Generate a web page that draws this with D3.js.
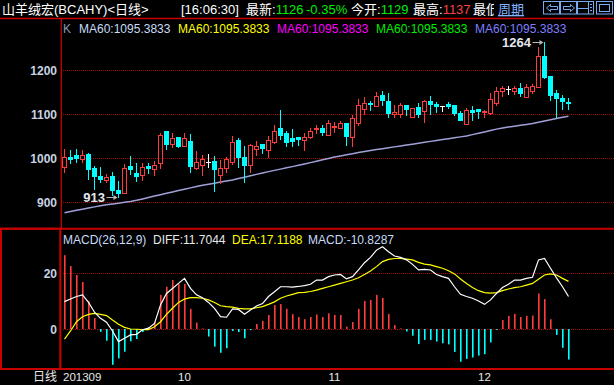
<!DOCTYPE html>
<html>
<head>
<meta charset="utf-8">
<script src="https://cdn.jsdelivr.net/npm/d3@7"></script>
<style>
  html, body { margin: 0; padding: 0; background: #000; }
  svg { display: block; font-family: "Liberation Sans", "Noto Sans CJK SC", sans-serif; }
</style>
</head>
<body>
<svg id="chart" width="614" height="385"></svg>
<script>
// daily candles (Sep - Dec 2013)
const open = [980,1002,1008,999,1010,978,960,951,960,928,922,983,967,962,982,976,990,1062,1033,1048,1029,1039,977,985,992,994,963,977,992,1041,1003,984,1022,1032,1020,1038,1070,1057,1046,1048,1041,1049,1066,1069,1054,1072,1070,1080,1048,1081,1113,1126,1120,1143,1130,1100,1100,1121,1094,1117,1107,1130,1123,1120,1124,1121,1104,1078,1110,1112,1106,1104,1126,1154,1157,1154,1159,1139,1154,1163,1232,1187,1148,1136,1129];
const high = [1021,1019,1021,1019,1012,982,980,964,969,948,987,1005,989,990,989,993,1058,1062,1057,1048,1057,1055,1017,1008,1010,1005,997,1003,1051,1046,1028,1033,1039,1032,1051,1076,1110,1062,1067,1048,1058,1070,1076,1075,1086,1082,1085,1081,1098,1134,1139,1130,1150,1153,1148,1122,1126,1121,1114,1126,1133,1142,1128,1120,1129,1121,1107,1115,1119,1112,1109,1148,1163,1165,1165,1164,1171,1168,1169,1252,1264,1187,1155,1144,1137];
const low = [970,990,992,991,953,930,946,946,916,913,921,964,948,951,967,963,977,1022,1025,1026,1028,968,976,961,981,926,945,970,988,981,947,968,1008,1011,1004,1034,1044,1029,1029,1031,1020,1046,1058,1052,1053,1060,1070,1031,1029,1076,1101,1109,1119,1122,1095,1094,1093,1098,1094,1093,1083,1101,1105,1108,1114,1099,1086,1078,1088,1092,1095,1101,1122,1142,1147,1146,1142,1139,1148,1162,1182,1133,1094,1112,1112];
const close = [1002,998,1001,1008,976,960,954,958,928,921,977,976,960,980,979,985,1054,1032,1046,1029,1046,983,992,998,992,976,977,998,1037,1004,985,1031,1028,1024,1042,1062,1054,1038,1040,1044,1048,1062,1069,1060,1080,1074,1080,1051,1092,1121,1125,1123,1142,1133,1102,1105,1122,1113,1114,1100,1130,1124,1118,1120,1120,1102,1086,1109,1106,1107,1108,1135,1153,1159,1157,1160,1148,1163,1164,1232,1185,1144,1138,1130,1126];
const ma60 = [876.4,879,881.7,884.3,887,889.6,892.3,894.2,896.1,898,899.9,901.8,904.5,907.7,910.9,914.1,917.3,920.5,923.6,926.6,929.7,932.8,935.9,938.7,941.1,943.5,945.9,948.3,950.7,953.9,957.1,960.3,963.5,966.7,969.7,972.6,975.4,978.3,981.1,984,987,990.2,993.4,996.6,999.8,1002.8,1005.4,1007.9,1010.5,1013,1015.6,1017.8,1019.9,1021.9,1023.9,1026,1028,1030.1,1032.2,1034.3,1036.4,1038.5,1040.5,1042.6,1044.6,1046.6,1048.7,1050.7,1053.8,1056.9,1060,1063.2,1066.3,1069,1071,1073,1075,1077.1,1079.1,1081.8,1084.6,1087.5,1090.3,1093.1,1095.3833];

// MACD(26,12,9)
const diff = [9.9,10.8,11.7,12.3,9.6,6.1,3.9,2.5,-0.6,-4.4,-3.2,-2.0,-1.8,-0.2,0.4,2.1,8.7,12.8,14.6,16.4,18.2,14.6,12.3,11.3,9.6,7.5,4.5,4.3,7.3,7.1,5.4,6.9,8.3,9.2,11.7,13.4,15.2,15.2,15.1,15.3,15.6,16.1,17.6,17.6,18.8,19.4,19.6,18.0,18.8,21.2,23.8,25.7,28.3,29.5,27.7,26.2,25.7,24.8,23.2,21.2,21.4,21.2,19.6,18.8,18.2,15.2,12.5,11.7,11.1,10.1,8.9,10.5,12.8,14.9,16.1,17.6,17.6,18.2,18.6,24.8,25.3,21.8,18.4,15.2,11.7044];
const dea = [-3.5,-0.6,2.7,4.5,5.3,5.7,5.3,4.9,3.3,1.8,0.7,0.1,0.0,-0.1,-0.1,0.9,2.7,5.3,7.5,9.6,10.8,11.3,11.3,11.1,10.5,9.6,8.4,8.1,7.9,7.5,7.3,7.3,7.7,8.1,8.9,9.8,11.1,11.9,12.5,13.1,13.2,13.5,14.0,14.6,15.2,15.8,16.4,17.0,17.6,18.4,19.6,20.8,22.4,24.2,25.0,25.3,25.3,25.1,24.8,23.9,23.3,23.0,22.4,21.8,20.9,19.8,18.0,16.4,14.9,13.8,13.1,12.9,13.1,13.8,14.4,14.9,15.2,15.8,16.4,17.9,19.4,19.8,19.4,18.2,17.1188];
const macd = [26.5,22.6,19.4,16.9,10.1,4.0,-0.9,-4.1,-12.7,-10.4,-8.0,-4.3,-3.5,-1.0,0.7,2.5,12.3,15.2,17.6,16.1,16.2,7.3,2.4,0.3,-2.6,-6.2,-8.4,-6.8,-0.6,-1.0,-3.2,-0.3,1.9,3.0,5.1,8.7,9.0,7.3,5.4,4.4,3.6,4.4,5.3,4.4,5.7,5.1,5.1,0.9,2.6,7.3,10.1,10.5,12.3,11.2,5.5,1.5,0.3,-0.8,-2.3,-5.3,-3.8,-3.8,-4.4,-5.0,-5.4,-8.1,-11.6,-10.6,-10.1,-9.4,-8.9,-4.7,-0.2,3.3,4.8,5.5,4.4,4.8,4.9,12.8,10.8,3.6,-2.0,-6.6,-10.8287];

const priceTicks = [900, 1000, 1100, 1200];
const macdTicks = [0, 20];
const monthLabels = ["201309", "10", "11", "12"];
const monthIndex = [0, 20, 45, 70];

const RED = "#ff3c3c", CYAN = "#00ffff", FRAME = "#c80000", GRID = "#a00000";
const n = close.length;

const svg = d3.select("#chart");
svg.append("rect").attr("width", 614).attr("height", 385).attr("fill", "#000");

// scales
const x = d3.scaleLinear().domain([0, n - 1]).range([64.5, 64.5 + 6 * (n - 1)]);
const y = d3.scaleLinear().domain([841.6, 1318.9]).range([228, 18]);
const ym = d3.scaleLinear().domain([-14.2, 36.2]).range([369, 228]);

// ---- top bar ----
const bar = svg.append("g").attr("font-size", 13);
bar.append("text").attr("x", 2).attr("y", 14).attr("fill", "#fff").text("山羊绒宏(BCAHY)<日线>");
bar.append("text").attr("x", 181).attr("y", 14).attr("fill", "#fff").text("[16:06:30]");
const t1 = bar.append("text").attr("x", 246).attr("y", 14).attr("fill", "#fff");
t1.append("tspan").text("最新:");
t1.append("tspan").attr("fill", "#00ee00").text(close[n - 1]);
bar.append("text").attr("x", 306).attr("y", 14).attr("fill", "#00ee00")
  .text(((close[n - 1] / close[n - 2] - 1) * 100).toFixed(2) + "%");
const t2 = bar.append("text").attr("x", 351).attr("y", 14).attr("fill", "#fff");
t2.append("tspan").text("今开:");
t2.append("tspan").attr("fill", "#00ee00").text(open[n - 1]);
const t3 = bar.append("text").attr("x", 413).attr("y", 14).attr("fill", "#fff");
t3.append("tspan").text("最高:");
t3.append("tspan").attr("fill", "#ff4040").text(high[n - 1]);
bar.append("text").attr("x", 473).attr("y", 14).attr("fill", "#fff").text("最低");
bar.append("rect").attr("x", 494).attr("y", 0).attr("width", 120).attr("height", 17).attr("fill", "#000");
bar.append("text").attr("x", 498).attr("y", 14).attr("fill", "#80b4ff")
  .attr("text-decoration", "underline").text("周期");

// toolbar icons
const ic = svg.append("g").attr("fill", "none").attr("stroke", "#78aaf0").attr("stroke-width", 1);
[543.5, 560.5, 577.5, 596.5].forEach(bx => {
  ic.append("rect").attr("x", bx).attr("y", 1.5).attr("width", 16).attr("height", 12.5);
});
ic.append("path").attr("d", "M546.5,8 L550.5,4.5 L550.5,6.5 L557.5,6.5 L557.5,9.5 L550.5,9.5 L550.5,11.5 Z");
ic.append("path").attr("d", "M574.5,8 L570.5,4.5 L570.5,6.5 L563.5,6.5 L563.5,9.5 L570.5,9.5 L570.5,11.5 Z");
ic.append("path").attr("d", "M578,8.5 H588 M588.5,2 V14 M590,4.5 H592 M590,7.5 H592 M590,10.5 H592");
ic.append("rect").attr("x", 599.5).attr("y", 4.5).attr("width", 10).attr("height", 7);

// ---- frames ----
const fr = svg.append("g").attr("stroke", FRAME);
fr.append("line").attr("x1", 0).attr("x2", 614).attr("y1", 18.5).attr("y2", 18.5).attr("stroke-width", 1.6);
fr.append("line").attr("x1", 61.3).attr("x2", 61.3).attr("y1", 18).attr("y2", 228).attr("stroke-width", 1.3);
fr.append("line").attr("x1", 0).attr("x2", 614).attr("y1", 228.7).attr("y2", 228.7).attr("stroke-width", 2);
fr.append("line").attr("x1", 0).attr("x2", 614).attr("y1", 369).attr("y2", 369).attr("stroke-width", 2);
fr.append("rect").attr("x", 1).attr("y", 228.7).attr("width", 59.3).attr("height", 140.3)
  .attr("fill", "none").attr("stroke-width", 2);

// ---- price panel ----
const grid = svg.append("g").attr("stroke", GRID).attr("stroke-dasharray", "1,1");
priceTicks.forEach(t => {
  const yy = Math.round(y(t)) + 0.5;
  grid.append("line").attr("x1", 63).attr("x2", 614).attr("y1", yy).attr("y2", yy);
});

const axisFont = g => g.call(s => s.select(".domain").remove())
  .selectAll("text").attr("fill", "#c8d2e0").attr("font-size", 12).attr("font-weight", "bold")
  .attr("font-family", "'Liberation Sans', sans-serif");

svg.append("g").attr("transform", "translate(57,0)")
  .call(d3.axisLeft(y).tickValues(priceTicks).tickSize(0).tickPadding(0).tickFormat(d3.format("d")))
  .call(axisFont);

// MA60 line
svg.append("path").datum(ma60)
  .attr("fill", "none").attr("stroke", "#a0a0d8").attr("stroke-width", 1.5)
  .attr("d", d3.line().x((d, i) => x(i)).y(d => y(d)));

// candles
const cg = svg.append("g");
open.forEach((o, i) => {
  const c = close[i];
  const cx = x(i);
  const yH = Math.round(y(high[i])), yL = Math.round(y(low[i]));
  const yT = Math.round(y(Math.max(o, c))), yB = Math.round(y(Math.min(o, c)));
  const col = c > o ? RED : (c < o ? CYAN : "#ffffff");
  cg.append("line").attr("x1", cx).attr("x2", cx).attr("y1", yH).attr("y2", yL + 1)
    .attr("stroke", col);
  if (c > o) {
    cg.append("rect").attr("x", cx - 2).attr("y", yT + 0.5).attr("width", 4)
      .attr("height", Math.max(0, yB - yT)).attr("fill", "#000").attr("stroke", RED);
  } else if (c < o) {
    cg.append("rect").attr("x", cx - 2.5).attr("y", yT).attr("width", 5)
      .attr("height", Math.max(1, yB - yT + 1)).attr("fill", CYAN);
  } else {
    cg.append("line").attr("x1", cx - 2.5).attr("x2", cx + 2.5)
      .attr("y1", yT + 0.5).attr("y2", yT + 0.5).attr("stroke", "#ffffff");
  }
});

// high / low markers
function marker(i, v) {
  const px = x(i), py = y(v);
  svg.append("text").attr("x", px - 13.5).attr("y", py + 5).attr("text-anchor", "end")
    .attr("font-size", 13).attr("font-weight", "bold").attr("fill", "#e4e8f0").text(v);
  svg.append("line").attr("x1", px - 12).attr("x2", px - 2).attr("y1", Math.round(py) + 0.5).attr("y2", Math.round(py) + 0.5)
    .attr("stroke", "#b8b8b8");
  svg.append("path").attr("d", `M${px - 1},${Math.round(py) + 0.5} l-4,-2.5 v5 Z`).attr("fill", "#b8b8b8");
}
const hiIdx = d3.maxIndex(high), loIdx = d3.minIndex(low);
marker(hiIdx, high[hiIdx]);
marker(loIdx, low[loIdx]);

// MA legend
svg.append("text").attr("x", 63).attr("y", 33).attr("font-size", 12).attr("fill", "#8a9cb0").text("K");
const maColors = ["#c8dcf8", "#ffff00", "#ff00ff", "#00ee00", "#7f7fff"];
const maText = "MA60:" + ma60[n - 1].toFixed(4);
[79, 178, 277, 376, 475].forEach((lx, k) => {
  svg.append("text").attr("x", lx).attr("y", 33).attr("font-size", 12)
    .attr("fill", maColors[k]).text(maText);
});

// ---- MACD panel ----
macdTicks.forEach(t => {
  const yy = Math.round(ym(t)) + 0.5;
  grid.append("line").attr("x1", 63).attr("x2", 614).attr("y1", yy).attr("y2", yy);
});
svg.append("g").attr("transform", "translate(57,0)")
  .call(d3.axisLeft(ym).tickValues(macdTicks).tickSize(0).tickPadding(0).tickFormat(d3.format("d")))
  .call(axisFont);

const y0 = Math.round(ym(0));
svg.append("g").selectAll("rect").data(macd).join("rect")
  .attr("x", (d, i) => x(i) - 0.5)
  .attr("width", 1.6)
  .attr("y", d => d >= 0 ? ym(d) : y0)
  .attr("height", d => Math.abs(ym(d) - y0))
  .attr("fill", d => d >= 0 ? RED : CYAN);

const ml = d3.line().x((d, i) => x(i)).y(d => ym(d));
svg.append("path").datum(dea).attr("fill", "none").attr("stroke", "#ffff00").attr("stroke-width", 1.2).attr("d", ml);
svg.append("path").datum(diff).attr("fill", "none").attr("stroke", "#ffffff").attr("stroke-width", 1.2).attr("d", ml);

const mt = svg.append("g").attr("font-size", 12);
mt.append("text").attr("x", 63).attr("y", 244).attr("fill", "#c8dcf8").text("MACD(26,12,9)");
mt.append("text").attr("x", 153).attr("y", 244).attr("fill", "#e8e8e8").text("DIFF:" + diff[n - 1].toFixed(4));
mt.append("text").attr("x", 232).attr("y", 244).attr("fill", "#ffff00").text("DEA:" + dea[n - 1].toFixed(4));
mt.append("text").attr("x", 308).attr("y", 244).attr("fill", "#c8dcf8").text("MACD:" + macd[n - 1].toFixed(4));

// ---- bottom date row ----
svg.append("text").attr("x", 57).attr("y", 381).attr("text-anchor", "end")
  .attr("font-size", 12).attr("fill", "#e8e8e8").text("日线");
monthLabels.forEach((lab, k) => {
  const i = monthIndex[k];
  svg.append("text")
    .attr("x", k === 0 ? x(i) - 1.5 : x(i))
    .attr("y", 381)
    .attr("text-anchor", k === 0 ? "start" : "middle")
    .attr("font-size", 11.5).attr("fill", "#e8e8e8").text(lab);
});
</script>
</body>
</html>
